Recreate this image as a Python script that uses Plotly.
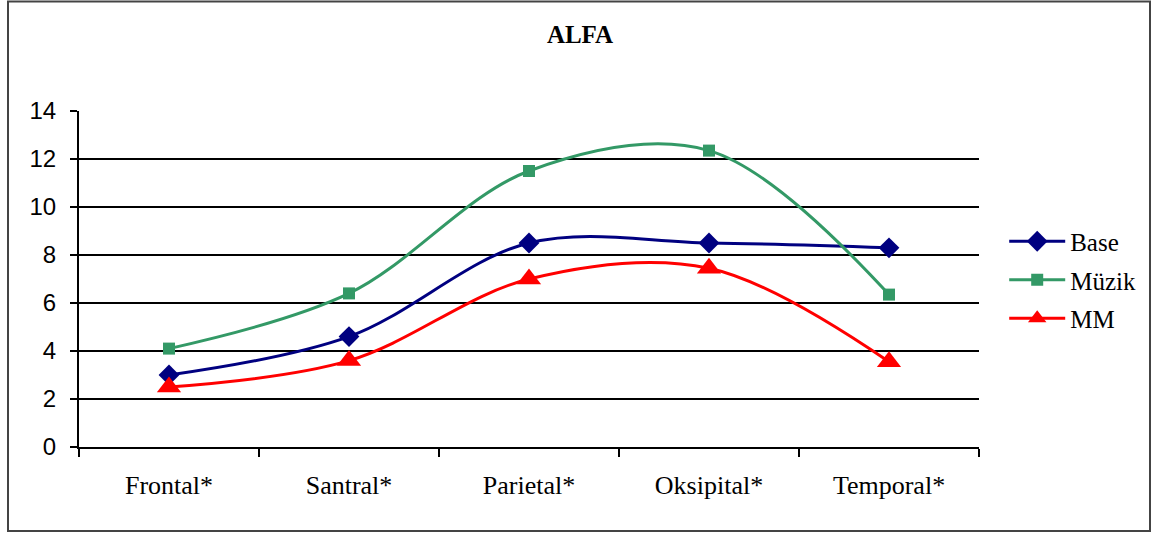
import plotly.graph_objects as go

# Regional alpha values per condition
regions = ["Frontal*", "Santral*", "Parietal*", "Oksipital*", "Temporal*"]
base = [3.0, 4.6, 8.5, 8.5, 8.3]
muzik = [4.1, 6.4, 11.5, 12.35, 6.35]
mm = [2.5, 3.6, 7.0, 7.45, 3.55]

y_ticks = [0, 2, 4, 6, 8, 10, 12, 14]
grid_vals = [2, 4, 6, 8, 10, 12]

W, H = 1168, 535
L, R, T, B = 79, 189, 111, 88

serif = "Liberation Serif, Times New Roman, serif"
sans = "Liberation Sans, Arial, sans-serif"

series = [
    ("Base", base, "#000080", "diamond", 16),
    ("Müzik", muzik, "#339966", "square", 12),
    ("MM", mm, "#FF0000", "triangle-up", 21),
]

fig = go.Figure()
for i, (name, vals, color, symbol, msize) in enumerate(series):
    fig.add_trace(go.Scatter(
        x=regions, y=vals, name=name, mode="lines+markers",
        line=dict(color=color, width=3, shape="spline", smoothing=1.0),
        marker=dict(color=color, symbol=symbol, size=msize, line=dict(width=0)),
        legendgroup=name,
    ))

# invisible trace that carries the horizontal grid on a twin axis
fig.add_trace(go.Scatter(x=regions, y=[None] * len(regions), yaxis="y2",
                         showlegend=False, hoverinfo="skip"))

fig.update_layout(
    width=W, height=H,
    margin=dict(l=L, r=R, t=T, b=B),
    paper_bgcolor="white", plot_bgcolor="white",
    title=dict(text="<b>ALFA</b>", x=580 / W, xref="container", xanchor="center",
               y=1 - 34 / H, yref="container", yanchor="middle",
               font=dict(family=serif, size=25, color="black")),
    xaxis=dict(type="category", range=[-0.5, 4.5], showgrid=False,
               showline=True, linecolor="black", linewidth=2,
               ticks="outside", tickson="boundaries", ticklen=8, tickwidth=2,
               tickcolor="black", ticklabelstandoff=14,
               tickfont=dict(family=serif, size=26, color="black")),
    yaxis=dict(range=[0, 14], tickvals=y_ticks, showgrid=False, zeroline=False,
               showline=True, linecolor="black", linewidth=2,
               ticks="outside", ticklen=7, tickwidth=2, tickcolor="black",
               ticklabelstandoff=9,
               tickfont=dict(family=sans, size=24, color="black")),
    yaxis2=dict(range=[0, 14], overlaying="y", tickvals=grid_vals,
                showticklabels=False, showgrid=True, gridcolor="black",
                gridwidth=2, zeroline=False, showline=False),
    legend=dict(x=1.028, xanchor="left", y=(447 - 280) / 336, yanchor="middle",
                font=dict(family=serif, size=25, color="black"),
                tracegroupgap=3, itemwidth=56, bgcolor="rgba(0,0,0,0)"),
    showlegend=True,
)

# outer chart frame
pw, ph = W - L - R, H - T - B
fig.add_shape(type="rect", xref="paper", yref="paper",
              x0=(8 - L) / pw, x1=(1150 - L) / pw,
              y0=(H - B - 531) / ph, y1=(H - B - 1.5) / ph,
              line=dict(color="#444444", width=2), layer="below")

fig.write_html("out.html")
